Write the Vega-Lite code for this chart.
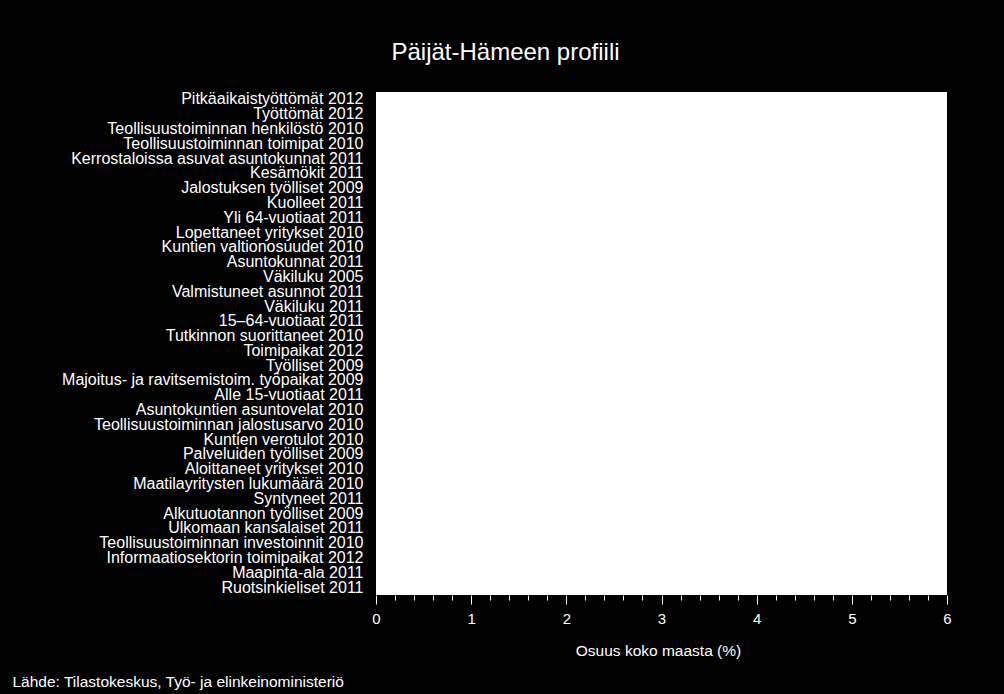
{
  "$schema": "https://vega.github.io/schema/vega-lite/v6.json",
  "background": "black",
  "autosize": "none",
  "width": 571,
  "height": 503,
  "padding": {"left": 376, "top": 92, "right": 57, "bottom": 99},
  "title": {
    "text": "Päijät-Hämeen profiili",
    "color": "white",
    "font": "Liberation Sans",
    "fontSize": 24,
    "fontWeight": "normal",
    "anchor": "middle",
    "frame": "group",
    "dx": -156,
    "offset": 26
  },
  "config": {
    "view": {"fill": "white", "stroke": null},
    "axis": {"labelFont": "Liberation Sans", "titleFont": "Liberation Sans", "labelColor": "white", "titleColor": "white", "grid": false}
  },
  "data": {
    "values": [
      {"muuttuja": "Pitkäaikaistyöttömät 2012", "osuus": 5.3},
      {"muuttuja": "Työttömät 2012", "osuus": 5.0},
      {"muuttuja": "Teollisuustoiminnan henkilöstö 2010\u00a0", "osuus": 4.6},
      {"muuttuja": "Teollisuustoiminnan toimipat 2010\u00a0", "osuus": 4.4},
      {"muuttuja": "Kerrostaloissa asuvat asuntokunnat 2011\u00a0", "osuus": 4.3},
      {"muuttuja": "Kesämökit 2011", "osuus": 4.2},
      {"muuttuja": "Jalostuksen työlliset 2009", "osuus": 4.1},
      {"muuttuja": "Kuolleet 2011", "osuus": 4.05},
      {"muuttuja": "Yli 64-vuotiaat 2011", "osuus": 4.0},
      {"muuttuja": "Lopettaneet yritykset 2010", "osuus": 3.95},
      {"muuttuja": "Kuntien valtionosuudet 2010\u00a0", "osuus": 3.9},
      {"muuttuja": "Asuntokunnat 2011\u00a0", "osuus": 3.85},
      {"muuttuja": "Väkiluku 2005", "osuus": 3.8},
      {"muuttuja": "Valmistuneet asunnot 2011\u00a0", "osuus": 3.78},
      {"muuttuja": "Väkiluku 2011", "osuus": 3.75},
      {"muuttuja": "15–64-vuotiaat 2011", "osuus": 3.7},
      {"muuttuja": "Tutkinnon suorittaneet 2010\u00a0", "osuus": 3.65},
      {"muuttuja": "Toimipaikat 2012", "osuus": 3.6},
      {"muuttuja": "Työlliset 2009", "osuus": 3.55},
      {"muuttuja": "Majoitus- ja ravitsemistoim. työpaikat 2009\u00a0", "osuus": 3.5},
      {"muuttuja": "Alle 15-vuotiaat 2011", "osuus": 3.45},
      {"muuttuja": "Asuntokuntien asuntovelat 2010\u00a0", "osuus": 3.4},
      {"muuttuja": "Teollisuustoiminnan jalostusarvo 2010\u00a0", "osuus": 3.35},
      {"muuttuja": "Kuntien verotulot 2010\u00a0", "osuus": 3.3},
      {"muuttuja": "Palveluiden työlliset 2009", "osuus": 3.25},
      {"muuttuja": "Aloittaneet yritykset 2010", "osuus": 3.2},
      {"muuttuja": "Maatilayritysten lukumäärä 2010\u00a0", "osuus": 3.1},
      {"muuttuja": "Syntyneet 2011", "osuus": 3.05},
      {"muuttuja": "Alkutuotannon työlliset 2009\u00a0", "osuus": 2.9},
      {"muuttuja": "Ulkomaan kansalaiset 2011", "osuus": 2.7},
      {"muuttuja": "Teollisuustoiminnan investoinnit 2010\u00a0", "osuus": 2.5},
      {"muuttuja": "Informaatiosektorin toimipaikat 2012", "osuus": 2.4},
      {"muuttuja": "Maapinta-ala 2011", "osuus": 1.7},
      {"muuttuja": "Ruotsinkieliset 2011", "osuus": 0.2}
    ]
  },
  "mark": {"type": "bar", "color": "white"},
  "encoding": {
    "y": {
      "field": "muuttuja",
      "type": "nominal",
      "sort": null,
      "title": "Lähde: Tilastokeskus, Työ- ja elinkeinoministeriö",
      "scale": {"paddingInner": 0.3, "paddingOuter": 0.15},
      "axis": {
        "ticks": false,
        "domain": false,
        "labelFontSize": 16,
        "labelPadding": 13,
        "labelLimit": 400,
        "titleAngle": 0,
        "titleFontSize": 15.5,
        "titleFontWeight": "normal",
        "titleAlign": "left",
        "titleAnchor": "start",
        "titleX": -364,
        "titleY": 594,
        "titleBaseline": "alphabetic"
      }
    },
    "x": {
      "field": "osuus",
      "type": "quantitative",
      "scale": {"domain": [0, 6], "nice": false},
      "title": "Osuus koko maasta (%)",
      "axis": {
        "values": [0, 0.2, 0.4, 0.6, 0.8, 1, 1.2, 1.4, 1.6, 1.8, 2, 2.2, 2.4, 2.6, 2.8, 3, 3.2, 3.4, 3.6, 3.8, 4, 4.2, 4.4, 4.6, 4.8, 5, 5.2, 5.4, 5.6, 5.8, 6],
        "labelExpr": "datum.value % 1 == 0 ? format(datum.value, 'd') : ''",
        "tickColor": "white",
        "tickSize": {"condition": {"test": "datum.value % 1 == 0", "value": 9}, "value": 5},
        "domain": false,
        "labelFontSize": 15,
        "labelPadding": 7,
        "labelFlush": false,
        "labelOverlap": false,
        "titleFontSize": 15.5,
        "titleFontWeight": "normal",
        "titleAnchor": "start",
        "titleAlign": "center",
        "titleX": 282,
        "titleY": 60,
        "titleBaseline": "alphabetic"
      }
    }
  }
}
